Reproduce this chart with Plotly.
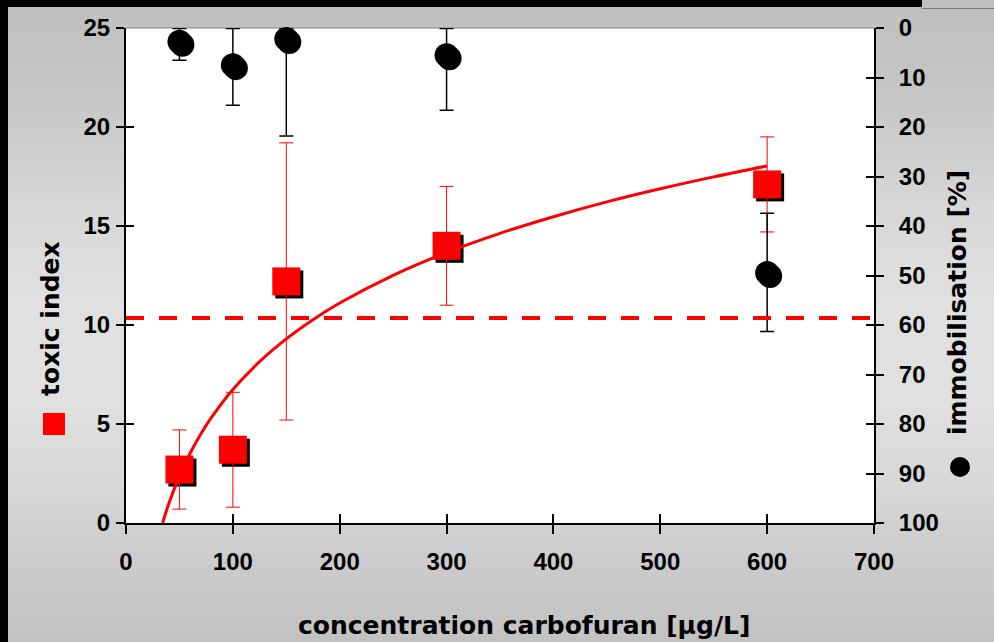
import plotly.graph_objects as go

# ---------------- data ----------------
conc = [50, 100, 150, 300, 600]
toxic_index = [2.7, 3.7, 12.2, 14.0, 17.1]
toxic_err = [2.0, 2.9, 7.0, 3.0, 2.4]

immobilisation = [2.8, 7.5, 2.2, 5.5, 49.5]
immob_err_plus = [3.7, 8.1, 19.6, 11.1, 11.8]
# upper whiskers reach the top of the scale (0 %)
immob_err_minus = [2.7, 7.4, 2.1, 5.4, 12.1]

fit_x = [34.3, 40, 50, 60, 70, 80, 100, 125, 150, 175, 200, 250, 300, 350, 400, 450, 500, 550, 600]
fit_y = [0.0, 0.97, 2.37, 3.52, 4.49, 5.33, 6.74, 8.15, 9.30, 10.27, 11.11, 12.51, 13.66, 14.63, 15.47, 16.22, 16.88, 17.48, 18.03]

threshold = 10.35

x_ticks = [0, 100, 200, 300, 400, 500, 600, 700]
y_ticks = [0, 5, 10, 15, 20, 25]
y2_ticks = [0, 10, 20, 30, 40, 50, 60, 70, 80, 90, 100]

# ---------------- layout geometry ----------------
W, H = 994, 642
L, R, T, B = 126, 874, 28, 523
pw, ph = R - L, B - T


def px2paper_x(px):
    return (px - L) / pw


def px2paper_y(py):
    return (B - py) / ph


# pixel offset of the drop shadow converted to data units
sx = 3 * 700 / pw
sy_left = 3 * 25 / ph
sy_right = 3 * 100 / ph

TICKFONT = dict(family="Liberation Sans, Arial", size=24, color="black", weight="bold")
TITLEFONT = dict(family="DejaVu Sans", size=25, color="black", weight="bold")

fig = go.Figure()

# black circles (right axis) with drop shadow
fig.add_trace(go.Scatter(
    x=[c + sx for c in conc], y=[v + sy_right for v in immobilisation], yaxis="y2",
    mode="markers", marker=dict(symbol="circle", size=24, color="black"),
    showlegend=False, hoverinfo="skip", cliponaxis=False))
fig.add_trace(go.Scatter(
    x=conc, y=immobilisation, yaxis="y2", mode="markers",
    marker=dict(symbol="circle", size=24, color="black"),
    error_y=dict(type="data", symmetric=False, array=immob_err_plus, arrayminus=immob_err_minus,
                 color="black", thickness=1.5, width=7),
    showlegend=False, cliponaxis=False))

# red squares (left axis) with drop shadow
fig.add_trace(go.Scatter(
    x=[c + sx for c in conc], y=[v - sy_left for v in toxic_index],
    mode="markers", marker=dict(symbol="square", size=28, color="black"),
    showlegend=False, hoverinfo="skip"))
fig.add_trace(go.Scatter(
    x=conc, y=toxic_index, mode="markers",
    marker=dict(symbol="square", size=28, color="#ff0000"),
    error_y=dict(type="data", array=toxic_err, color="#ff0000", thickness=1, width=7),
    showlegend=False))
# fitted curve
fig.add_trace(go.Scatter(
    x=fit_x, y=fit_y, mode="lines", line=dict(color="#ff0000", width=3, shape="spline"),
    showlegend=False))

# dummy traces so the overlay axes (inner half of the crossing ticks) are drawn
fig.add_trace(go.Scatter(x=[None], y=[None], xaxis="x2", yaxis="y", showlegend=False, hoverinfo="skip"))
fig.add_trace(go.Scatter(x=[None], y=[None], xaxis="x", yaxis="y3", showlegend=False, hoverinfo="skip"))
fig.add_trace(go.Scatter(x=[None], y=[None], xaxis="x", yaxis="y4", showlegend=False, hoverinfo="skip"))

# ---------------- background shapes ----------------
shapes = []
knots = [(0, 192), (30, 193), (100, 198), (200, 214), (300, 224), (400, 224), (480, 216), (560, 204), (642, 194)]


def gray_at(py):
    for (a, ga), (b, gb) in zip(knots[:-1], knots[1:]):
        if a <= py <= b:
            return ga + (gb - ga) * (py - a) / (b - a)
    return knots[-1][1]


step = 6
py = 0
while py < H:
    g = int(round(gray_at(py + step / 2)))
    shapes.append(dict(type="rect", xref="paper", yref="paper", layer="below",
                       x0=px2paper_x(0), x1=px2paper_x(W), y0=px2paper_y(py + step + 0.5), y1=px2paper_y(py),
                       line=dict(width=0), fillcolor=f"rgb({g},{g},{g})"))
    py += step

# white plot area
shapes.append(dict(type="rect", xref="paper", yref="paper", layer="below", x0=0, x1=1, y0=0, y1=1,
                   line=dict(width=0), fillcolor="white"))
# thin top border of plot area
shapes.append(dict(type="line", xref="paper", yref="paper", layer="below", x0=0, x1=1, y0=1, y1=1,
                   line=dict(color="#808080", width=1)))
# black frame bands
shapes.append(dict(type="rect", xref="paper", yref="paper", x0=px2paper_x(0), x1=px2paper_x(922),
                   y0=px2paper_y(7), y1=px2paper_y(0), line=dict(width=0), fillcolor="black"))
shapes.append(dict(type="rect", xref="paper", yref="paper", x0=px2paper_x(0), x1=px2paper_x(8),
                   y0=px2paper_y(H), y1=px2paper_y(0), line=dict(width=0), fillcolor="black"))
shapes.append(dict(type="line", xref="paper", yref="paper", x0=px2paper_x(922), x1=px2paper_x(W),
                   y0=px2paper_y(8.5), y1=px2paper_y(8.5), line=dict(color="#7a7a7a", width=1)))
# threshold dashed line
shapes.append(dict(type="line", xref="paper", yref="y", x0=0, x1=1, y0=threshold, y1=threshold,
                   line=dict(color="#ff0000", width=4, dash="18px,15px")))
# legend symbols beside the axis titles
shapes.append(dict(type="rect", xref="paper", yref="paper", x0=px2paper_x(43), x1=px2paper_x(65),
                   y0=px2paper_y(435), y1=px2paper_y(413), line=dict(width=0), fillcolor="#ff0000"))
shapes.append(dict(type="circle", xref="paper", yref="paper", x0=px2paper_x(950), x1=px2paper_x(970),
                   y0=px2paper_y(477), y1=px2paper_y(457), line=dict(width=0), fillcolor="black"))

annotations = [
    dict(text="concentration carbofuran [µg/L]", xref="paper", yref="paper",
         x=px2paper_x(524), y=px2paper_y(625), showarrow=False, font=TITLEFONT,
         xanchor="center", yanchor="middle"),
    dict(text="toxic index", xref="paper", yref="paper", textangle=-90,
         x=px2paper_x(50), y=px2paper_y(319), showarrow=False, font=TITLEFONT,
         xanchor="center", yanchor="middle"),
    dict(text="immobilisation [%]", xref="paper", yref="paper", textangle=-90,
         x=px2paper_x(957), y=px2paper_y(303), showarrow=False, font=TITLEFONT,
         xanchor="center", yanchor="middle"),
]

axis_common = dict(showgrid=False, zeroline=False, fixedrange=True)

fig.update_layout(
    width=W, height=H, autosize=False,
    margin=dict(l=L, r=W - R, t=T, b=H - B, pad=0),
    paper_bgcolor="rgb(200,200,200)", plot_bgcolor="rgba(0,0,0,0)",
    showlegend=False,
    shapes=shapes, annotations=annotations,
    xaxis=dict(range=[0, 700], tickvals=x_ticks, ticktext=[str(v) for v in x_ticks],
               ticks="outside", ticklen=9, tickwidth=1.5, tickcolor="black",
               showline=True, linecolor="black", linewidth=2,
               tickfont=TICKFONT, ticklabelstandoff=7, **axis_common),
    xaxis2=dict(range=[0, 700], tickvals=x_ticks, overlaying="x", anchor="y", side="bottom",
                ticks="inside", ticklen=9, tickwidth=1.5, tickcolor="black",
                showticklabels=False, showline=False, **axis_common),
    yaxis=dict(range=[0, 25], tickvals=y_ticks, ticks="outside", ticklen=8, tickwidth=1.5,
               tickcolor="black", showline=True, linecolor="black", linewidth=2,
               tickfont=TICKFONT, ticklabelstandoff=1, **axis_common),
    yaxis2=dict(range=[100, 0], tickvals=y2_ticks, overlaying="y", side="right", anchor="x",
                ticks="outside", ticklen=8, tickwidth=1.5, tickcolor="black",
                showline=True, linecolor="black", linewidth=2,
                tickfont=TICKFONT, ticklabelstandoff=10, **axis_common),
    yaxis3=dict(range=[0, 25], tickvals=y_ticks, overlaying="y", side="left", anchor="x",
                ticks="inside", ticklen=8, tickwidth=1.5, tickcolor="black",
                showticklabels=False, showline=False, **axis_common),
    yaxis4=dict(range=[100, 0], tickvals=y2_ticks, overlaying="y", side="right", anchor="x",
                ticks="inside", ticklen=8, tickwidth=1.5, tickcolor="black",
                showticklabels=False, showline=False, **axis_common),
)

fig.write_html("out.html")
